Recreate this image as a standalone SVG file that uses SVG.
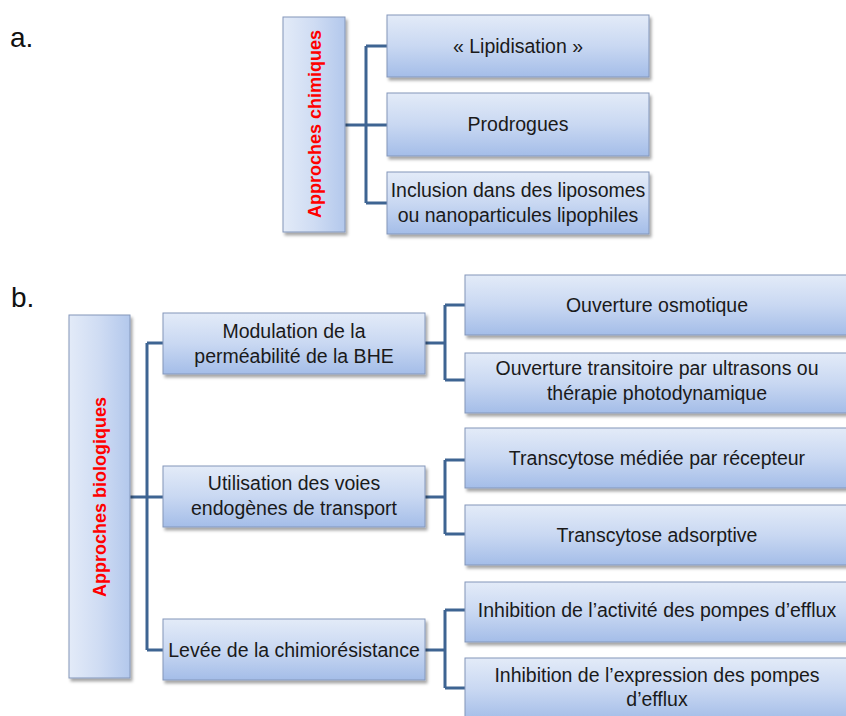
<svg xmlns="http://www.w3.org/2000/svg" width="846" height="716" viewBox="0 0 846 716">
<defs>
<linearGradient id="g" x1="0" y1="0" x2="0" y2="1">
<stop offset="0" stop-color="#e3ebf8"/>
<stop offset="0.5" stop-color="#c9d8f2"/>
<stop offset="1" stop-color="#a4bde8"/>
</linearGradient>
<linearGradient id="gv" x1="0" y1="0" x2="1" y2="0">
<stop offset="0" stop-color="#e3ebf8"/>
<stop offset="0.5" stop-color="#cfdcf3"/>
<stop offset="1" stop-color="#b3c8ec"/>
</linearGradient>
<filter id="sh" x="-10%" y="-10%" width="130%" height="140%">
<feDropShadow dx="2" dy="3" stdDeviation="1.5" flood-color="#000" flood-opacity="0.35"/>
</filter>
</defs>
<style>
.box{fill:url(#g);stroke:#8396ba;stroke-width:1;filter:url(#sh)}
.vbox{fill:url(#gv);stroke:#8396ba;stroke-width:1;filter:url(#sh)}
.t{font-family:"Liberation Sans",Arial,sans-serif;font-size:19.5px;fill:#1a1a1a;text-anchor:middle}
.r{font-family:"Liberation Sans",Arial,sans-serif;font-size:18px;font-weight:bold;fill:#ff0000;text-anchor:middle}
.lab{font-family:"Liberation Sans",Arial,sans-serif;font-size:28px;fill:#111}
.c{fill:none;stroke:#3e6492;stroke-width:3;stroke-linejoin:miter}
</style>
<rect width="846" height="716" fill="#fff"/>
<text class="lab" x="10" y="47">a.</text>
<text class="lab" x="11" y="307">b.</text>

<g id="connectors">
<path class="c" d="M345,125 H366 M366,46 V203 M366,46 H387 M366,125 H387 M366,203 H387"/>
<path class="c" d="M130,497 H147 M147,343 V650 M147,343 H163 M147,497 H163 M147,650 H163"/>
<path class="c" d="M425,343 H445 M445,305 V380 M445,305 H465 M445,380 H465"/>
<path class="c" d="M425,497 H445 M445,460 V534 M445,460 H465 M445,534 H465"/>
<path class="c" d="M425,650 H445 M445,610 V688 M445,610 H465 M445,688 H465"/>
</g>

<g id="approches-chimiques">
<rect class="vbox" x="283" y="17" width="62" height="215"/>
<text class="r" transform="translate(321,124) rotate(-90)">Approches chimiques</text>
</g>
<g id="lipidisation">
<rect class="box" x="387" y="15" width="262" height="62"/>
<text class="t" x="518" y="53">« Lipidisation »</text>
</g>
<g id="prodrogues">
<rect class="box" x="387" y="93" width="262" height="63"/>
<text class="t" x="518" y="131">Prodrogues</text>
</g>
<g id="inclusion">
<rect class="box" x="387" y="172" width="262" height="62"/>
<text class="t" x="518" y="197">Inclusion dans des liposomes</text>
<text class="t" x="518" y="222">ou nanoparticules lipophiles</text>
</g>

<g id="approches-biologiques">
<rect class="vbox" x="69" y="315" width="61" height="363"/>
<text class="r" transform="translate(106,497) rotate(-90)">Approches biologiques</text>
</g>
<g id="modulation">
<rect class="box" x="163" y="313" width="262" height="61"/>
<text class="t" x="294" y="338">Modulation de la</text>
<text class="t" x="294" y="363">perméabilité de la BHE</text>
</g>
<g id="utilisation">
<rect class="box" x="163" y="466" width="262" height="61"/>
<text class="t" x="294" y="490">Utilisation des voies</text>
<text class="t" x="294" y="515">endogènes de transport</text>
</g>
<g id="levee">
<rect class="box" x="163" y="619" width="262" height="61"/>
<text class="t" x="294" y="657">Levée de la chimiorésistance</text>
</g>

<g id="ouverture-osmotique">
<rect class="box" x="465" y="275" width="386" height="60"/>
<text class="t" x="657" y="312">Ouverture osmotique</text>
</g>
<g id="ouverture-transitoire">
<rect class="box" x="465" y="353" width="386" height="60"/>
<text class="t" x="657" y="375">Ouverture transitoire par ultrasons ou</text>
<text class="t" x="657" y="400">thérapie photodynamique</text>
</g>
<g id="transcytose-recepteur">
<rect class="box" x="465" y="428" width="386" height="60"/>
<text class="t" x="657" y="465">Transcytose médiée par récepteur</text>
</g>
<g id="transcytose-adsorptive">
<rect class="box" x="465" y="505" width="386" height="60"/>
<text class="t" x="657" y="542">Transcytose adsorptive</text>
</g>
<g id="inhibition-activite">
<rect class="box" x="465" y="582" width="386" height="60"/>
<text class="t" x="657" y="617">Inhibition de l’activité des pompes d’efflux</text>
</g>
<g id="inhibition-expression">
<rect class="box" x="465" y="658" width="386" height="62"/>
<text class="t" x="657" y="682">Inhibition de l’expression des pompes</text>
<text class="t" x="657" y="706">d’efflux</text>
</g>
</svg>
